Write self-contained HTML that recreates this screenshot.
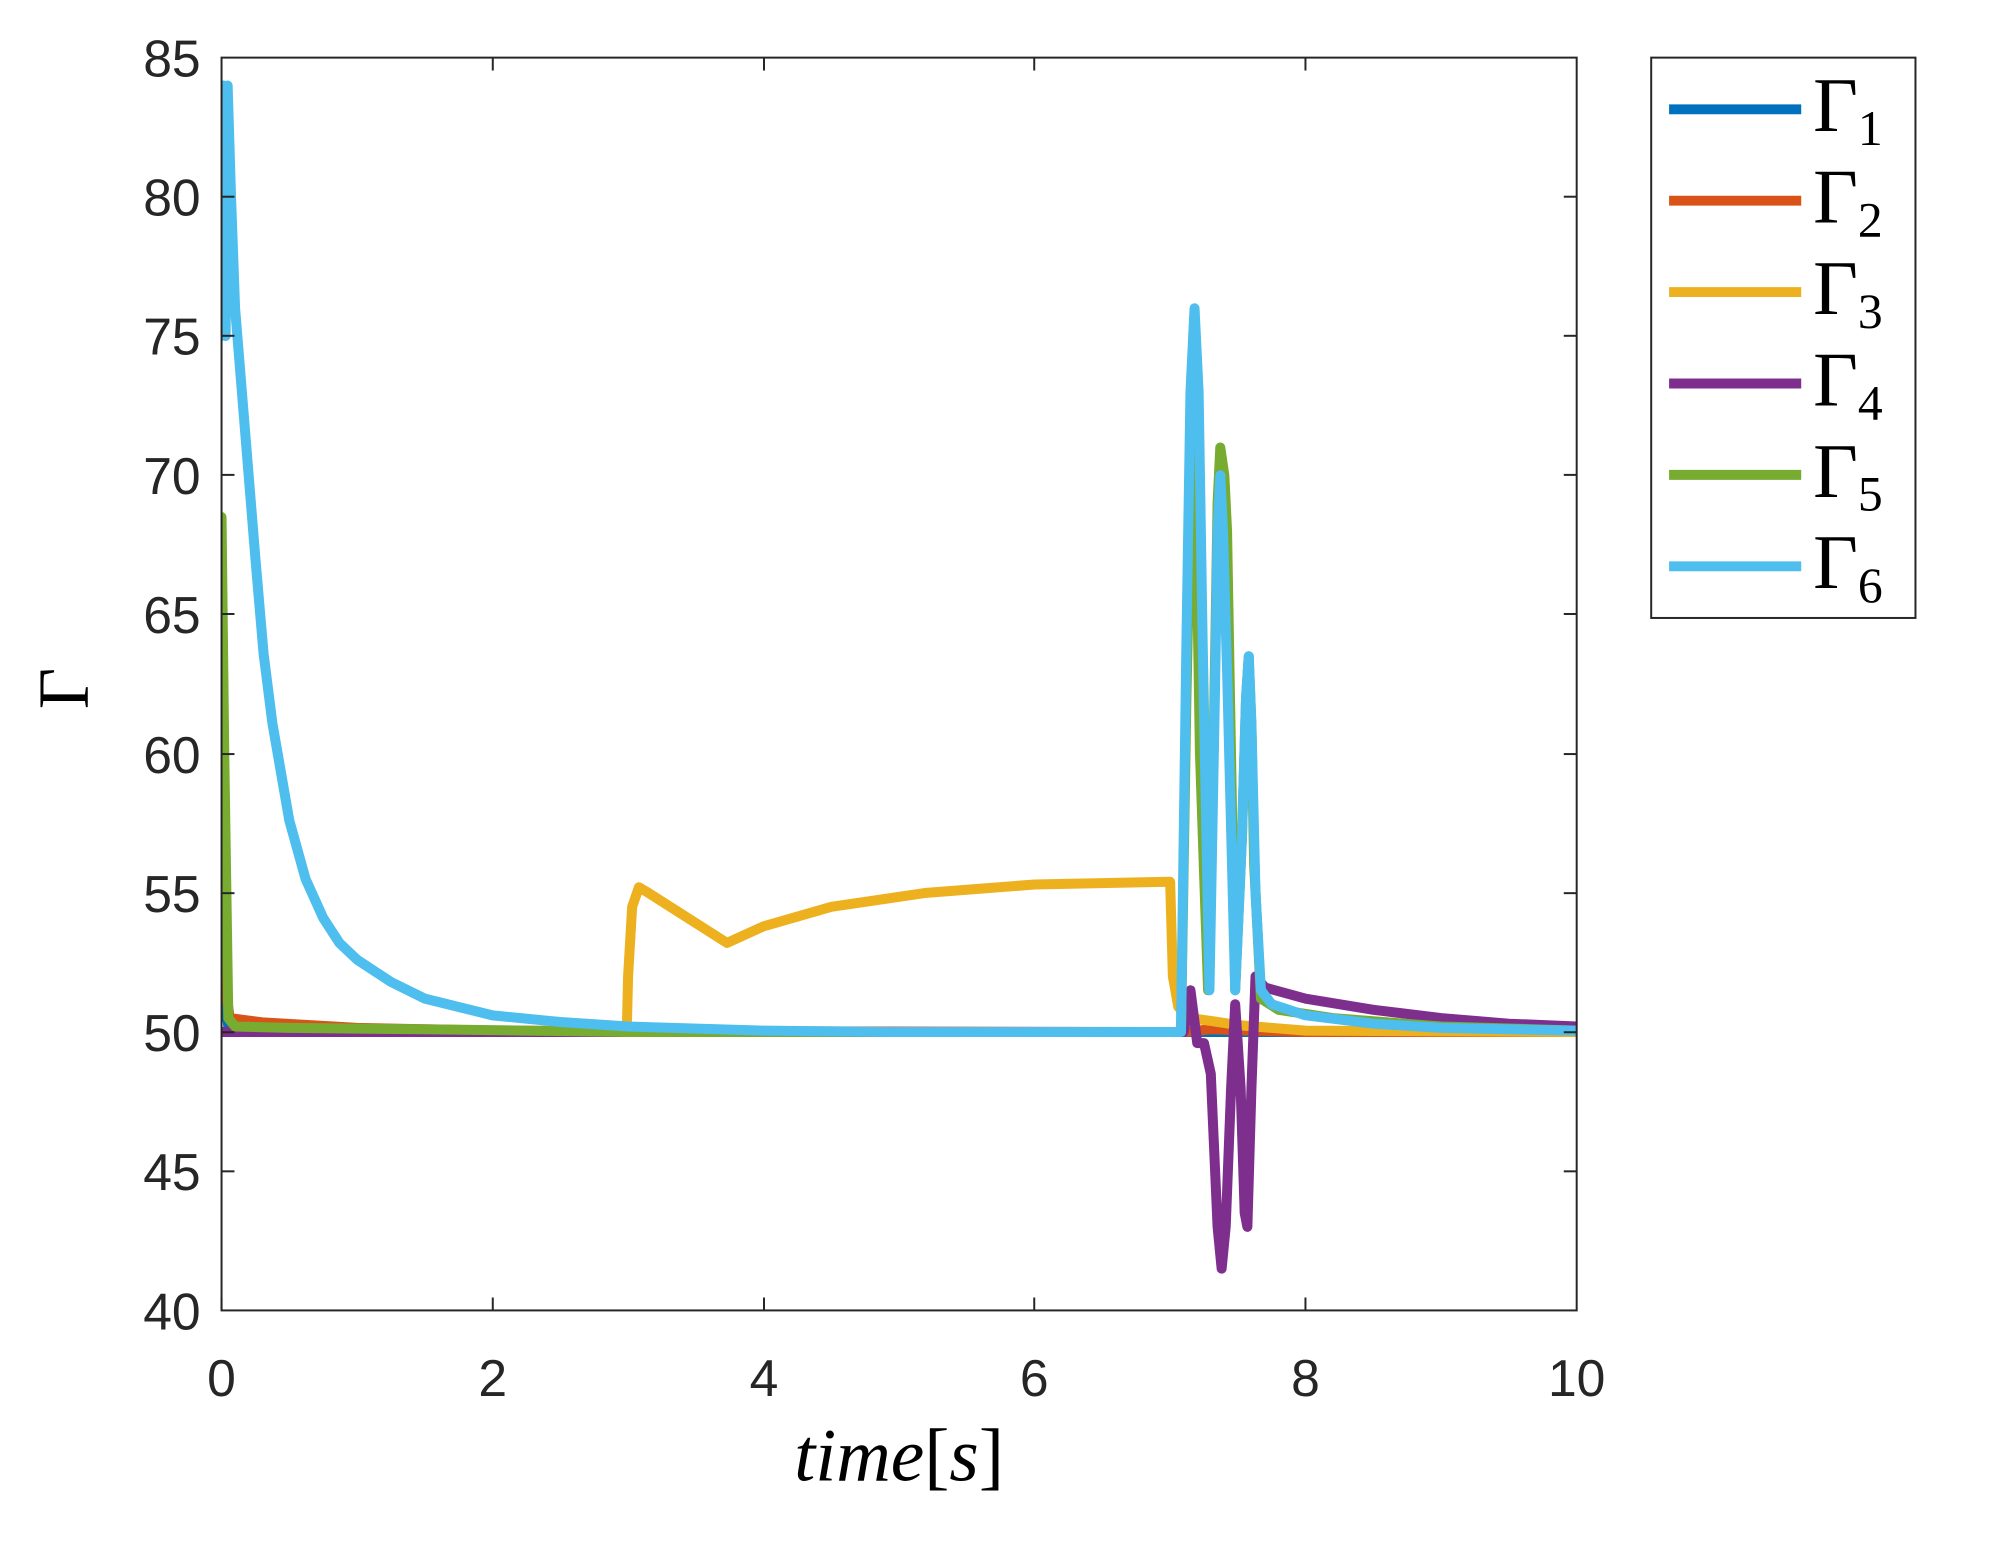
<!DOCTYPE html>
<html><head><style>
html,body{margin:0;padding:0;background:#fff;}
svg{display:block;}
.tl{font-family:"Liberation Sans",sans-serif;font-size:52px;fill:#262626;}
.lg{font-family:"Liberation Serif",serif;fill:#000;}
</style></head><body>
<svg width="1996" height="1564" viewBox="0 0 1996 1564" xmlns="http://www.w3.org/2000/svg">
<rect width="1996" height="1564" fill="#fff"/>
<defs><clipPath id="c"><rect x="223" y="58" width="1364" height="1261"/></clipPath></defs>
<g transform="scale(0.9935)">
<g clip-path="url(#c)">
<g transform="translate(223,1319) scale(136.4,-28.02) translate(0,-40)" fill="none" stroke-width="10" stroke-linejoin="round" stroke-linecap="round">
<polyline vector-effect="non-scaling-stroke" stroke="#0072BD" points="0,52 0.05,50.2 0.3,50.1 2,50 10,50"/>
<polyline vector-effect="non-scaling-stroke" stroke="#D95319" points="0,55.5 0.02,52 0.06,50.5 0.3,50.35 1,50.15 2,50.05 7.1,50 7.3,50.1 7.6,50.05 8,50 10,50"/>
<polyline vector-effect="non-scaling-stroke" stroke="#EDB120" points="0,50 2.99,50 3.0,52 3.03,54.5 3.08,55.2 3.15,55 3.73,53.2 4,53.8 4.5,54.5 5.2,55 6,55.3 7.0,55.4 7.02,52 7.06,50.9 7.15,50.5 7.3,50.4 7.5,50.25 8,50.05 10,50"/>
<polyline vector-effect="non-scaling-stroke" stroke="#7E2F8E" points="0,50 7.1,50 7.15,51.5 7.2,49.6 7.25,49.6 7.3,48.5 7.35,43 7.38,41.5 7.41,43 7.45,48 7.48,51 7.52,48 7.55,43.5 7.57,43 7.6,48 7.63,52 7.7,51.6 8,51.2 8.5,50.8 9,50.5 9.5,50.3 10,50.2"/>
<polyline vector-effect="non-scaling-stroke" stroke="#77AC30" points="0,68.5 0.02,60 0.05,50.5 0.1,50.2 0.5,50.15 1.5,50.1 3,50 7.08,50 7.12,62 7.15,69 7.17,71 7.19,69 7.22,60 7.28,51.5 7.32,60 7.35,69 7.37,71 7.4,70 7.42,68 7.48,51.5 7.53,57 7.56,62 7.58,63.5 7.6,61 7.62,56 7.67,51.2 7.8,50.8 8.2,50.5 9,50.2 10,50.05"/>
<polyline vector-effect="non-scaling-stroke" stroke="#4DBEEE" points="0,75 0.015,84 0.03,75 0.045,84 0.07,80 0.1,76 0.15,73 0.2,70 0.25,67 0.31,63.6 0.375,61.1 0.5,57.6 0.62,55.5 0.75,54.1 0.87,53.2 1.0,52.6 1.25,51.8 1.5,51.2 2,50.6 2.5,50.36 3,50.2 4,50.05 5,50 7.08,50 7.12,64 7.15,73 7.18,76 7.21,73 7.24,64 7.29,51.5 7.33,62 7.35,68 7.37,70 7.39,68 7.42,63 7.48,51.5 7.53,57 7.56,62 7.58,63.5 7.6,61 7.63,55 7.67,51.5 7.75,51 8,50.6 8.5,50.3 9,50.15 10,50.05"/>
</g></g>
<rect x="223" y="58" width="1364" height="1261" fill="none" stroke="#262626" stroke-width="2"/>
<g stroke="#262626" stroke-width="2">
<line x1="223" y1="1319" x2="223" y2="1306"/><line x1="496" y1="1319" x2="496" y2="1306"/><line x1="769" y1="1319" x2="769" y2="1306"/><line x1="1041" y1="1319" x2="1041" y2="1306"/><line x1="1314" y1="1319" x2="1314" y2="1306"/>
<line x1="496" y1="58" x2="496" y2="71"/><line x1="769" y1="58" x2="769" y2="71"/><line x1="1041" y1="58" x2="1041" y2="71"/><line x1="1314" y1="58" x2="1314" y2="71"/>
<line x1="223" y1="198" x2="236" y2="198"/><line x1="223" y1="338" x2="236" y2="338"/><line x1="223" y1="478" x2="236" y2="478"/><line x1="223" y1="618" x2="236" y2="618"/><line x1="223" y1="759" x2="236" y2="759"/><line x1="223" y1="899" x2="236" y2="899"/><line x1="223" y1="1039" x2="236" y2="1039"/><line x1="223" y1="1179" x2="236" y2="1179"/>
<line x1="1587" y1="198" x2="1574" y2="198"/><line x1="1587" y1="338" x2="1574" y2="338"/><line x1="1587" y1="478" x2="1574" y2="478"/><line x1="1587" y1="618" x2="1574" y2="618"/><line x1="1587" y1="759" x2="1574" y2="759"/><line x1="1587" y1="899" x2="1574" y2="899"/><line x1="1587" y1="1039" x2="1574" y2="1039"/><line x1="1587" y1="1179" x2="1574" y2="1179"/>
</g>
<g class="tl" text-anchor="end">
<text x="202" y="77">85</text><text x="202" y="217">80</text><text x="202" y="357">75</text><text x="202" y="497">70</text><text x="202" y="637">65</text><text x="202" y="778">60</text><text x="202" y="918">55</text><text x="202" y="1058">50</text><text x="202" y="1198">45</text><text x="202" y="1338">40</text>
</g>
<g class="tl" text-anchor="middle">
<text x="223" y="1405">0</text><text x="496" y="1405">2</text><text x="769" y="1405">4</text><text x="1041" y="1405">6</text><text x="1314" y="1405">8</text><text x="1587" y="1405">10</text>
</g>
<text x="905" y="1490" text-anchor="middle" class="lg" font-size="76" font-style="italic">time<tspan font-style="normal">[</tspan>s<tspan font-style="normal">]</tspan></text>
<text class="lg" font-size="72" transform="translate(88,693) rotate(-90)" text-anchor="middle">Γ</text>
<rect x="1662" y="58" width="266" height="564" fill="#fff" stroke="#262626" stroke-width="2"/>
<g stroke-width="10">
<line x1="1680" y1="110" x2="1813" y2="110" stroke="#0072BD"/>
<line x1="1680" y1="202" x2="1813" y2="202" stroke="#D95319"/>
<line x1="1680" y1="294" x2="1813" y2="294" stroke="#EDB120"/>
<line x1="1680" y1="386" x2="1813" y2="386" stroke="#7E2F8E"/>
<line x1="1680" y1="478" x2="1813" y2="478" stroke="#77AC30"/>
<line x1="1680" y1="570" x2="1813" y2="570" stroke="#4DBEEE"/>
</g>
<g class="lg" font-size="78">
<text x="1825" y="132">Γ<tspan font-size="50" dy="14">1</tspan></text>
<text x="1825" y="224">Γ<tspan font-size="50" dy="14">2</tspan></text>
<text x="1825" y="316">Γ<tspan font-size="50" dy="14">3</tspan></text>
<text x="1825" y="408">Γ<tspan font-size="50" dy="14">4</tspan></text>
<text x="1825" y="500">Γ<tspan font-size="50" dy="14">5</tspan></text>
<text x="1825" y="592">Γ<tspan font-size="50" dy="14">6</tspan></text>
</g>
</g>
</svg>
</body></html>
